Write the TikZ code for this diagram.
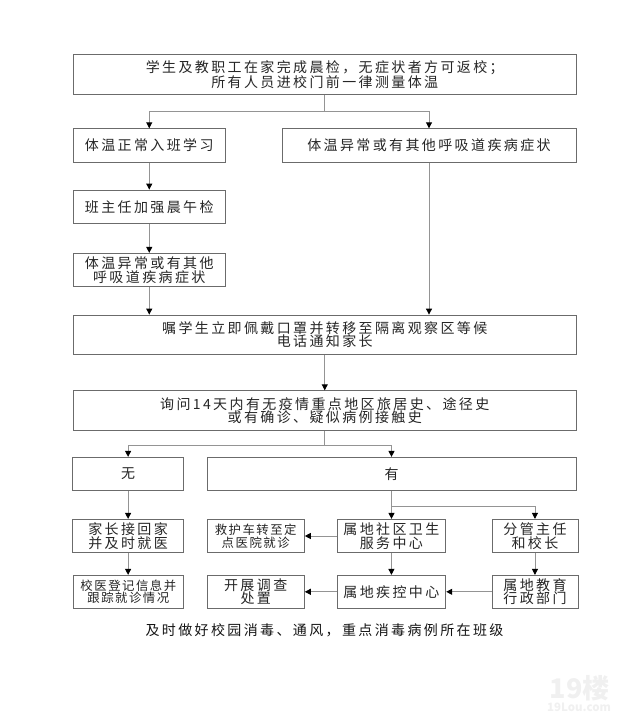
\documentclass[tikz,border=0pt]{standalone}
\usepackage{fontspec}
\usetikzlibrary{arrows.meta}
\setmainfont{Noto Sans CJK SC}
\newfontfamily\wideface{Noto Sans CJK SC}[LetterSpace=17]
\newfontfamily\midface{Noto Sans CJK SC}[LetterSpace=12]
\tikzset{
  x=1pt, y=-1pt,
  stepbox/.style={draw=black!58, line width=0.8pt, fill=white, inner sep=0pt, align=center,
    text=black!85, font=\wideface\fontsize{14}{13.4}\selectfont},
  smallbox/.style={stepbox, font=\midface\fontsize{12.4}{12.6}\selectfont},
  link/.style={draw=black!42, line width=0.9pt},
  flow/.style={link, -{Triangle[length=6pt,width=6pt,color=black]}},
  sized/.style n args={2}{minimum width=#1pt, minimum height=#2pt}
}
\begin{document}
\begin{tikzpicture}
\useasboundingbox (0,0) rectangle (640,723);

% upper part: checks on arrival and the two outcomes
\node[stepbox, sized={502.5}{40}] (top) at (324.75,74.3) {学生及教职工在家完成晨检，无症状者方可返校；\\所有人员进校门前一律测量体温};
\node[stepbox, sized={151.5}{33.6}] (normal) at (149.25,145.5) {体温正常入班学习};
\node[stepbox, sized={294}{33.6}] (abnormal) at (429,145.5) {体温异常或有其他呼吸道疾病症状};
\node[stepbox, sized={151.5}{33.7}] (teacher) at (149.25,206.85) {班主任加强晨午检};
\node[stepbox, sized={151.5}{33.4}] (symptom) at (149.25,270) {体温异常或有其他\\呼吸道疾病症状};
\node[stepbox, sized={502.5}{39.7}] (isolate) at (324.75,334.85) {嘱学生立即佩戴口罩并转移至隔离观察区等候\\电话通知家长};
\node[stepbox, sized={502.5}{39.6}] (ask) at (324.75,410.5) {询问14天内有无疫情重点地区旅居史、途径史\\或有确诊、疑似病例接触史};

% lower part: the two answers
\node[stepbox, sized={111.2}{33.4}] (no) at (128.1,474) {无};
\node[stepbox, sized={369}{33.4}] (yes) at (391.5,474) {有};
\node[stepbox, sized={111.2}{33.4}] (home) at (128.1,536) {家长接回家\\并及时就医};
\node[smallbox, sized={97.4}{33.4}] (ambulance) at (255.7,536) {救护车转至定\\点医院就诊};
\node[stepbox, sized={108.8}{33.4}] (community) at (391.4,536) {属地社区卫生\\服务中心};
\node[stepbox, sized={86.1}{33.4}] (head) at (534.95,536) {分管主任\\和校长};
\node[smallbox, sized={110.7}{33}] (doctor) at (128.35,591.8) {校医登记信息并\\跟踪就诊情况};
\node[stepbox, sized={97.4}{33}] (survey) at (255.7,591.8) {开展调查\\处置};
\node[stepbox, sized={108.8}{33}] (cdc) at (391.4,591.8) {属地疾控中心};
\node[stepbox, sized={86.1}{33}] (edu) at (534.95,591.8) {属地教育\\行政部门};

\node[font=\wideface\fontsize{14}{14}\selectfont, text=black!92, inner sep=0pt] (note) at (324.5,630) {及时做好校园消毒、通风，重点消毒病例所在班级};

% site mark in the lower right corner
\node[font=\bfseries\fontsize{27}{27}\selectfont, text=black!6, inner sep=0pt] (markA) at (579.5,688) {19楼};
\node[font=\bfseries\fontsize{11.5}{12}\selectfont, text=black!6, inner sep=0pt] (markB) at (579,707) {19Lou.com};

% branch points
\coordinate (splitA) at (324.75,111.7);
\coordinate (splitB) at (324.75,445);
\coordinate (splitC) at (391.45,506);

% connectors
\draw[link] (top.south) -- (splitA);
\draw[flow] (splitA) -| (normal.north);
\draw[flow] (splitA) -| (abnormal.north);
\draw[flow] (normal) -- (teacher);
\draw[flow] (teacher) -- (symptom);
\draw[flow] (symptom.south) -- (symptom.south |- isolate.north);
\draw[flow] (abnormal.south) -- (abnormal.south |- isolate.north);
\draw[flow] (isolate) -- (ask);
\draw[link] (ask.south) -- (splitB);
\draw[flow] (splitB) -| (no.north);
\draw[flow] (splitB) -| (yes.north);
\draw[flow] (no) -- (home);
\draw[flow] (home.south) -- (home.south |- doctor.north);
\draw[flow] (yes.south) -- (yes.south |- community.north);
\draw[flow] (splitC) -| (head.north);
\draw[flow] (community) -- (ambulance);
\draw[flow] (community) -- (cdc);
\draw[flow] (head) -- (edu);
\draw[flow] (cdc) -- (survey);
\draw[flow] (edu) -- (cdc);
\end{tikzpicture}
\end{document}
